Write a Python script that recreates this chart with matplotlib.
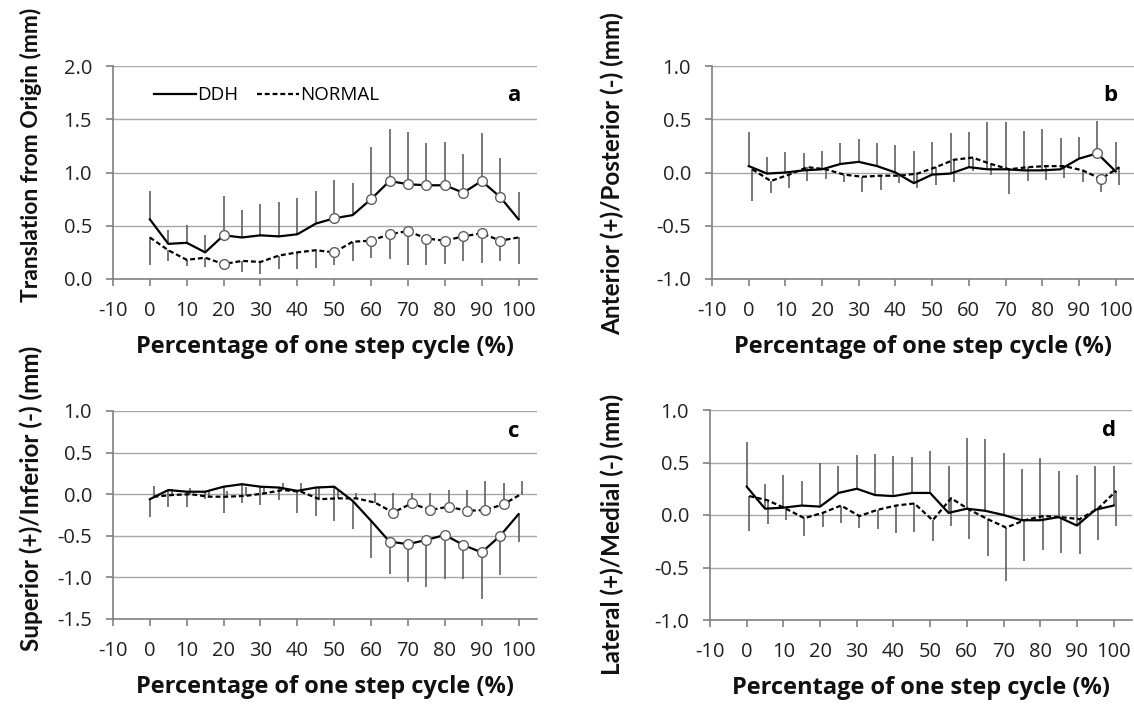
import matplotlib
matplotlib.use("Agg")
import matplotlib.pyplot as plt
import numpy as np

plt.rcParams['font.family'] = ['Open Sans', 'DejaVu Sans']

# ---------------- data ----------------
cycle = [0, 5, 10, 15, 20, 25, 30, 35, 40, 45, 50, 55, 60, 65, 70, 75, 80, 85, 90, 95, 100]
xtick_vals = [-10, 0, 10, 20, 30, 40, 50, 60, 70, 80, 90, 100]
xtick_labels = ["-10", "0", "10", "20", "30", "40", "50", "60", "70", "80", "90", "100"]

# panel a: translation from origin
ddh_a = [0.56, 0.33, 0.34, 0.25, 0.41, 0.39, 0.41, 0.40, 0.42, 0.52, 0.57, 0.60, 0.75, 0.92, 0.89, 0.88, 0.88, 0.81, 0.92, 0.77, 0.56]
ddh_a_sd = [0.27, 0.13, 0.17, 0.16, 0.37, 0.26, 0.29, 0.32, 0.34, 0.31, 0.36, 0.30, 0.49, 0.49, 0.49, 0.40, 0.41, 0.36, 0.45, 0.37, 0.26]
nor_a = [0.39, 0.27, 0.18, 0.20, 0.14, 0.17, 0.16, 0.22, 0.25, 0.27, 0.25, 0.35, 0.36, 0.42, 0.45, 0.38, 0.36, 0.40, 0.43, 0.36, 0.39]
nor_a_sd = [0.26, 0.10, 0.06, 0.09, 0.05, 0.10, 0.11, 0.13, 0.16, 0.17, 0.12, 0.18, 0.16, 0.23, 0.32, 0.25, 0.22, 0.23, 0.28, 0.19, 0.25]
sig_a = [20, 50, 60, 65, 70, 75, 80, 85, 90, 95]

# panel b: anterior/posterior
ddh_b = [0.06, -0.01, 0.00, 0.02, 0.03, 0.08, 0.10, 0.06, 0.00, -0.10, -0.02, -0.01, 0.05, 0.03, 0.03, 0.02, 0.02, 0.03, 0.13, 0.18, 0.01]
ddh_b_sd = [0.32, 0.16, 0.19, 0.16, 0.17, 0.20, 0.21, 0.22, 0.26, 0.30, 0.31, 0.38, 0.33, 0.44, 0.44, 0.37, 0.39, 0.29, 0.20, 0.30, 0.28]
nor_b = [0.03, -0.08, -0.02, 0.05, 0.03, -0.02, -0.04, -0.03, -0.03, -0.01, 0.05, 0.12, 0.14, 0.08, 0.03, 0.05, 0.06, 0.06, 0.02, -0.06, 0.05]
nor_b_sd = [0.30, 0.11, 0.13, 0.13, 0.09, 0.07, 0.14, 0.13, 0.07, 0.14, 0.17, 0.21, 0.13, 0.10, 0.23, 0.13, 0.13, 0.11, 0.11, 0.12, 0.17]
sig_b = [95]

# panel c: superior/inferior
ddh_c = [-0.06, 0.05, 0.03, 0.03, 0.09, 0.12, 0.09, 0.08, 0.04, 0.08, 0.09, -0.08, -0.32, -0.57, -0.60, -0.55, -0.49, -0.61, -0.70, -0.50, -0.24]
ddh_c_sd = [0.22, 0.20, 0.18, 0.09, 0.32, 0.22, 0.22, 0.15, 0.26, 0.34, 0.41, 0.34, 0.45, 0.39, 0.45, 0.57, 0.53, 0.41, 0.56, 0.47, 0.34]
nor_c = [-0.03, -0.01, 0.00, -0.03, -0.03, -0.02, 0.01, 0.05, 0.03, -0.06, -0.05, -0.05, -0.10, -0.22, -0.11, -0.19, -0.15, -0.20, -0.19, -0.12, 0.01]
nor_c_sd = [0.13, 0.07, 0.07, 0.08, 0.07, 0.11, 0.07, 0.09, 0.11, 0.14, 0.11, 0.07, 0.12, 0.24, 0.12, 0.21, 0.20, 0.25, 0.35, 0.25, 0.15]
sig_c = [65, 70, 75, 80, 85, 90, 95]

# panel d: lateral/medial
ddh_d = [0.27, 0.06, 0.07, 0.09, 0.08, 0.21, 0.25, 0.19, 0.18, 0.21, 0.21, 0.02, 0.06, 0.04, 0.00, -0.05, -0.05, -0.02, -0.10, 0.05, 0.09]
ddh_d_sd = [0.43, 0.24, 0.31, 0.23, 0.42, 0.26, 0.32, 0.39, 0.38, 0.34, 0.40, 0.45, 0.67, 0.68, 0.59, 0.49, 0.59, 0.44, 0.48, 0.42, 0.38]
nor_d = [0.18, 0.14, 0.06, -0.03, 0.02, 0.09, -0.01, 0.05, 0.09, 0.11, -0.05, 0.16, 0.05, -0.04, -0.12, -0.05, -0.01, -0.02, -0.04, 0.06, 0.23]
nor_d_sd = [0.33, 0.23, 0.11, 0.17, 0.13, 0.17, 0.11, 0.18, 0.26, 0.27, 0.20, 0.26, 0.28, 0.35, 0.51, 0.39, 0.32, 0.34, 0.33, 0.30, 0.33]
sig_d = []

ylabels = ["Translation from Origin (mm)", "Anterior (+)/Posterior (-) (mm)",
           "Superior (+)/Inferior (-) (mm)", "Lateral (+)/Medial (-) (mm)"]
xlabel = "Percentage of one step cycle (%)"
panel_letters = ["a", "b", "c", "d"]
legend_labels = ["DDH", "NORMAL"]

# ---------------- figure ----------------
W, H = 1134, 706
fig = plt.figure(figsize=(W / 100, H / 100), dpi=100)

def px(l, t, r, b):
    return [l / W, 1 - b / H, (r - l) / W, (b - t) / H]

panels = [
    dict(rect=px(113, 66, 537, 279), ddh=ddh_a, dsd=ddh_a_sd, nor=nor_a, nsd=nor_a_sd, sig=sig_a,
         ddh_dir=1, nor_dir=-1, yl=(0, 2.0), yt=[0, 0.5, 1.0, 1.5, 2.0], off=0.0),
    dict(rect=px(712, 66, 1134, 279), ddh=ddh_b, dsd=ddh_b_sd, nor=nor_b, nsd=nor_b_sd, sig=sig_b,
         ddh_dir=1, nor_dir=-1, yl=(-1.0, 1.0), yt=[-1.0, -0.5, 0, 0.5, 1.0], off=1.0),
    dict(rect=px(113, 411, 537, 619), ddh=ddh_c, dsd=ddh_c_sd, nor=nor_c, nsd=nor_c_sd, sig=sig_c,
         ddh_dir=-1, nor_dir=1, yl=(-1.5, 1.0), yt=[-1.5, -1.0, -0.5, 0, 0.5, 1.0], off=1.0),
    dict(rect=px(710, 410, 1132, 620), ddh=ddh_d, dsd=ddh_d_sd, nor=nor_d, nsd=nor_d_sd, sig=sig_d,
         ddh_dir=1, nor_dir=-1, yl=(-1.0, 1.0), yt=[-1.0, -0.5, 0, 0.5, 1.0], off=0.7),
]

grid_c = '#a8a8a8'
spine_c = '#808080'
err_c = '#606060'
tick_fs = 14.5
lab_font = ['Open Sans', 'DejaVu Sans']
rot_font = ['Lato', 'DejaVu Sans']

axes = []
for i, p in enumerate(panels):
    ax = fig.add_axes(p['rect'])
    axes.append(ax)
    x = np.array(cycle, dtype=float)
    xn = x + p['off']
    ddh = np.array(p['ddh']); dsd = np.array(p['dsd'])
    nor = np.array(p['nor']); nsd = np.array(p['nsd'])
    zeros = np.zeros_like(dsd)

    # error bars (one-sided)
    d_err = [dsd, zeros] if p['ddh_dir'] < 0 else [zeros, dsd]
    n_err = [nsd, zeros] if p['nor_dir'] < 0 else [zeros, nsd]
    ax.errorbar(x, ddh, yerr=d_err, fmt='none', ecolor=err_c, elinewidth=1.2, capsize=0, zorder=2)
    ax.errorbar(xn, nor, yerr=n_err, fmt='none', ecolor=err_c, elinewidth=1.2, capsize=0, zorder=2)

    # lines
    l1, = ax.plot(x, ddh, color='black', lw=1.6, zorder=3, label=legend_labels[0])
    l2, = ax.plot(xn, nor, color='black', lw=1.6, ls=(0, (2.2, 1.3)), zorder=3, label=legend_labels[1])

    # significance markers
    if p['sig']:
        idx = [cycle.index(s) for s in p['sig']]
        ax.plot(x[idx], ddh[idx], 'o', ms=7, mfc='white', mec='#606060', mew=1.0, zorder=4)
        ax.plot(xn[idx], nor[idx], 'o', ms=7, mfc='white', mec='#606060', mew=1.0, zorder=4)

    ax.set_xlim(-10, 105)
    ax.set_ylim(*p['yl'])
    ax.set_xticks(xtick_vals)
    ax.set_xticklabels(xtick_labels, family=lab_font)
    ax.set_yticks(p['yt'])
    ax.set_yticklabels(['%.1f' % v for v in p['yt']], family=lab_font)
    for v in p['yt'][1:]:
        ax.axhline(v, color=grid_c, lw=1.0, zorder=1)
    for s in ['top', 'right']:
        ax.spines[s].set_visible(False)
    for s in ['left', 'bottom']:
        ax.spines[s].set_color(spine_c)
        ax.spines[s].set_linewidth(1.2)
    ax.tick_params(axis='x', direction='out', length=5, width=1.2, color=spine_c,
                   labelsize=tick_fs, pad=10.5, labelcolor='#222222')
    ax.tick_params(axis='y', direction='out', length=5, width=1.2, color=spine_c,
                   labelsize=tick_fs, pad=10, labelcolor='#222222')
    ax.patch.set_alpha(0)

    ax.set_xlabel(xlabel, fontsize=17, fontweight='bold', labelpad=10.5, color='#111111',
                  family=lab_font)

    # panel letter
    ax.text(0.945, 0.86 if i < 2 else 0.9, panel_letters[i], transform=ax.transAxes,
            fontsize=16, fontweight='bold', ha='center', va='center', family=lab_font)

    if i == 0:
        ax.legend(handles=[l1, l2], loc='upper left', bbox_to_anchor=(0.08, 0.94), ncol=2,
                  frameon=False, prop={'family': lab_font, 'size': 13.5}, handlelength=2.2,
                  handletextpad=0.1, columnspacing=1.0, borderaxespad=0)

# y labels
ylab_kw = dict(rotation=90, ha='center', fontweight='bold', color='#111111', family=rot_font)
fig.text(31 / W, 1 - 155 / H, ylabels[0], va='center', fontsize=16.5, **ylab_kw)
fig.text(612 / W, 1 - 174 / H, ylabels[1], va='center', fontsize=17.5, **ylab_kw)
fig.text(31 / W, 1 - 346 / H, ylabels[2], va='top', fontsize=17.5, **ylab_kw)
fig.text(612 / W, 1 - 534 / H, ylabels[3], va='center', fontsize=17.5, **ylab_kw)

fig.savefig('out.png', dpi=100)
